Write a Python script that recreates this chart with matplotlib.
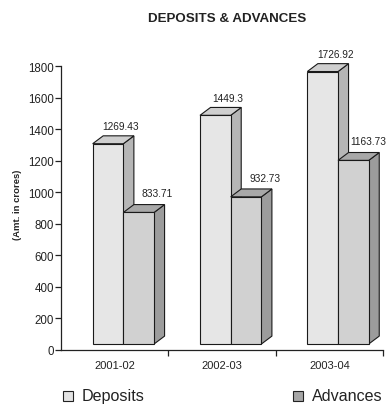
import matplotlib
matplotlib.use("Agg")
import matplotlib.pyplot as plt
from matplotlib.patches import Polygon, Rectangle
from matplotlib.transforms import offset_copy
import numpy as np

plt.rcParams['font.family'] = ['Liberation Sans', 'DejaVu Sans']

categories = ["2001-02", "2002-03", "2003-04"]
deposits = [1269.43, 1449.3, 1726.92]
advances = [833.71, 932.73, 1163.73]
deposit_labels = ["1269.43", "1449.3", "1726.92"]
advance_labels = ["833.71", "932.73", "1163.73"]
series_names = ["Deposits", "Advances"]
yticks = [0, 200, 400, 600, 800, 1000, 1200, 1400, 1600, 1800]

W, H = 388, 406
fig = plt.figure(figsize=(W / 100, H / 100), dpi=100)
ax = fig.add_axes([61 / W, 1 - 351 / H, (383 - 61) / W, (351 - 67) / H])
ax.set_xlim(-0.5, 2.5)
ax.set_ylim(0, 1800)

# 3D styling
bw = 0.286
x_start = -0.205
dx = 0.098
dy = 50
base = 38
edge = "#1a1a1a"
lw = 0.8
colors = {
    "Deposits": ("#e6e6e6", "#cfcfcf", "#b6b6b6"),
    "Advances": ("#d1d1d1", "#a8a8a8", "#9c9c9c"),
}

def bar3d(x0, v, cols, z):
    front, top, side = cols
    b = base
    t = base + v
    ax.add_patch(Polygon([(x0 + bw, b), (x0 + bw + dx, b + dy), (x0 + bw + dx, t + dy), (x0 + bw, t)],
                         closed=True, facecolor=side, edgecolor=edge, lw=lw, clip_on=False, zorder=z))
    ax.add_patch(Polygon([(x0, t), (x0 + bw, t), (x0 + bw + dx, t + dy), (x0 + dx, t + dy)],
                         closed=True, facecolor=top, edgecolor=edge, lw=lw, clip_on=False, zorder=z))
    ax.add_patch(Rectangle((x0, b), bw, v, facecolor=front, edgecolor=edge, lw=lw, clip_on=False, zorder=z + 0.5))

x = np.arange(len(categories))
value_texts = []
for i in range(len(categories)):
    bar3d(x[i] + x_start, deposits[i], colors["Deposits"], 3)
    bar3d(x[i] + x_start + bw, advances[i], colors["Advances"], 4)
    value_texts.append(ax.text(x[i] + 0.055, base + deposits[i] + 112, deposit_labels[i], ha="center",
                               va="center", fontsize=7.3, color="#222222", clip_on=False))
    value_texts.append(ax.text(x[i] + 0.40, base + advances[i] + 122, advance_labels[i], ha="center",
                               va="center", fontsize=7.3, color="#222222", clip_on=False))

for s in ["top", "right"]:
    ax.spines[s].set_visible(False)
for s in ["left", "bottom"]:
    ax.spines[s].set_color("#222222")
    ax.spines[s].set_linewidth(0.9)

ax.set_yticks(yticks)
ax.set_yticklabels([str(v) for v in yticks], fontsize=8.3, color="#222222")
ax.tick_params(axis="y", direction="out", length=4, width=0.9, pad=1.2, color="#222222")
ax.set_xticks(x)
ax.set_xticklabels(categories, fontsize=8, color="#222222")
ax.tick_params(axis="x", which="major", length=0, pad=7)
ax.set_xticks([0.5, 1.5, 2.5], minor=True)
ax.tick_params(axis="x", which="minor", direction="out", length=4, width=0.9, color="#222222")

fig.text(227.5 / W, 1 - 18.5 / H, "DEPOSITS & ADVANCES", ha="center", va="center",
         fontsize=9.6, fontweight="bold", color="#222222")
fig.text(18 / W, 1 - 205 / H, "(Amt. in crores)", ha="center", va="center", rotation=90,
         fontsize=6.8, fontweight="bold", color="#222222")

# legend
leg_items = [(62.7, 81.5, "Deposits", "#e3e3e3"), (293.3, 311.5, "Advances", "#a6a6a6")]
for sx, tx, name, fc in leg_items:
    fig.patches.append(Rectangle((sx / W, 1 - 402 / H), 10 / W, 10 / H, transform=fig.transFigure,
                                 facecolor=fc, edgecolor="#222222", lw=0.8))
    fig.text(tx / W, 1 - 401.5 / H, name, ha="left", va="baseline", fontsize=11.6, color="#222222")

# keep value labels inside the canvas
fig.canvas.draw()
r = fig.canvas.get_renderer()
for t in value_texts:
    bb = t.get_window_extent(r)
    if bb.x1 > W - 1.5:
        shift = bb.x1 - (W - 1.5)
        t.set_transform(offset_copy(t.get_transform(), fig=fig, x=-shift, y=0, units="dots"))

fig.savefig("out.png", dpi=100)
